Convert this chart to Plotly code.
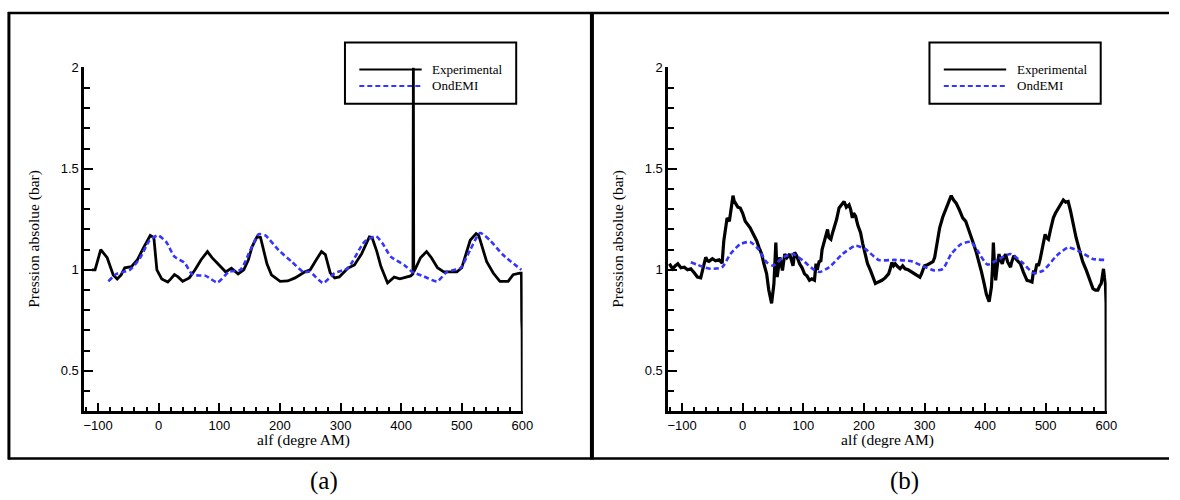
import plotly.graph_objects as go

# ---------------- data ----------------
# Panel (a)
exp_a_x = [-110, -105, -95.6, -85, -75, -68.4, -62, -56, -45, -35, -25, -15, -13.9, -8, -3, 5, 15, 20, 26, 32, 39.6,
           50.5, 60, 70, 80.5, 88, 99.5, 110.4, 120, 131, 140.4, 148, 154, 162.2, 168, 178.6, 186, 200.4, 213,
           225, 241.3, 250, 260, 268.6, 275, 283, 290.4, 298, 312, 323, 335, 347.6, 352, 360, 366.7, 377.6,
           388.5, 398, 415.8, 419.5, 420.2, 420.8, 424, 432, 442, 450, 460, 470.3, 492, 500, 514, 523.7, 528,
           541.2, 552, 563, 576.6, 584.8, 595.7, 598.5, 599, 599.6, 600]
exp_a_y = [1.00, 1.00, 1.10, 1.06, 0.975, 0.955, 0.975, 1.01, 1.016, 1.05, 1.11, 1.165, 1.17, 1.16, 1.0, 0.955,
           0.94, 0.955, 0.976, 0.965, 0.943, 0.96, 1.0, 1.05, 1.09, 1.06, 1.024, 0.99, 1.008, 0.98, 1.0, 1.05,
           1.114, 1.163, 1.16, 1.03, 0.975, 0.943, 0.945, 0.96, 0.99, 1.0, 1.05, 1.09, 1.075, 0.985, 0.96, 0.965,
           1.008, 1.024, 1.08, 1.163, 1.16, 1.09, 1.016, 0.935, 0.964, 0.955, 0.97, 0.98, 2.0, 0.99, 1.008,
           1.06, 1.09, 1.06, 1.01, 0.99, 0.99, 1.01, 1.146, 1.179, 1.17, 1.04, 0.984, 0.943, 0.943, 0.976,
           0.984, 0.984, 0.75, 0.70, 0.30]

emi_a_x = [-83, -69.5, -47.6, -31, -15, -1.3, 12.3, 26, 42.3, 56, 77.7, 96.8, 116, 135, 151.3, 165, 176, 197.7,
           219.5, 238.6, 249.5, 271.3, 290.4, 312, 339.4, 358.5, 369.4, 383, 404.9, 418.5, 437.6, 459.4, 475.7,
           497.5, 513.9, 530.3, 546.6, 568.4, 598.4]
emi_a_y = [0.943, 0.98, 1.0, 1.057, 1.146, 1.17, 1.138, 1.065, 1.036, 0.976, 0.97, 0.938, 0.99, 1.0, 1.098, 1.176,
           1.17, 1.098, 1.04, 0.99, 0.99, 0.935, 0.984, 1.008, 1.138, 1.166, 1.13, 1.065, 1.024, 0.99, 0.967,
           0.943, 0.99, 1.008, 1.098, 1.182, 1.146, 1.073, 1.0]

# Panel (b)
exp_b_x = [-121, -118, -115.5, -111, -107, -102, -96.4, -91, -85.6, -80, -74.7, -69.3, -65, -61, -58, -55.7, -50,
           -44.8, -39, -33.9, -31.2, -28, -25.7, -22, -19.2, -16, -14, -12.2, -8, -4, 0, 4.2, 8, 12.3, 17, 23.2,
           27, 31.3, 35, 39.5, 43, 47.7, 51.5, 54.7, 56.9, 61.3, 65.6, 69.4, 73, 77.6, 83, 85.7, 89, 93.9, 98, 102,
           106, 110.2, 114, 118.4, 121, 123, 126, 129, 131, 134.7, 137, 140, 142, 145.5, 148, 151, 155, 159, 163,
           167.3, 171, 175.5, 178, 180.9, 183, 186.3, 190, 194.5, 198, 202.6, 206, 210.8, 215, 219, 224, 229.8,
           235, 240.7, 243, 246.2, 249, 251.6, 256, 259.7, 264, 267.9, 273, 278.8, 285, 292.4, 295, 300, 305,
           311.4, 314, 316.8, 320, 325, 330, 335.9, 340, 344, 348, 352.2, 357, 363, 368, 373.9, 378, 382, 386,
           390.3, 394, 398.4, 402, 406.6, 410.4, 412, 413.6, 415, 417.4, 420, 422.9, 425, 428.3, 431, 433.7, 437,
           441.9, 444, 447.4, 452, 458.2, 463, 469.1, 473, 477.3, 480, 482, 485.4, 488, 490.9, 494, 499, 501,
           504.5, 508, 512.6, 516, 520.8, 525, 529, 533, 537, 541, 545.2, 550, 556, 561, 567, 572, 577.9, 582,
           586, 589, 591.5, 593, 595.3, 597, 598.5, 599.6, 600]
exp_b_y = [1.03, 1.015, 1.005, 1.02, 1.03, 1.01, 1.013, 1.0, 1.005, 0.985, 0.964, 0.96, 1.013, 1.062, 1.045, 1.042,
           1.055, 1.045, 1.05, 1.033, 1.143, 1.2, 1.257, 1.24, 1.306, 1.367, 1.34, 1.33, 1.31, 1.306, 1.28, 1.24,
           1.225, 1.208, 1.18, 1.143, 1.11, 1.078, 1.03, 0.98, 0.9, 0.834, 0.93, 1.135, 0.964, 1.062, 0.997, 1.078,
           1.06, 1.078, 1.02, 1.086, 1.07, 1.03, 1.01, 0.98, 0.97, 0.948, 0.955, 0.948, 1.03, 1.0, 1.04, 1.045,
           1.1, 1.143, 1.17, 1.2, 1.16, 1.151, 1.18, 1.208, 1.25, 1.306, 1.32, 1.338, 1.31, 1.322, 1.3, 1.257,
           1.28, 1.265, 1.22, 1.184, 1.13, 1.078, 1.03, 0.997, 0.96, 0.932, 0.94, 0.948, 0.96, 0.98, 1.0, 1.037,
           1.02, 1.03, 1.015, 1.005, 1.02, 1.005, 1.0, 0.989, 0.975, 0.964, 0.98, 1.02, 1.025, 1.033, 1.04, 1.062,
           1.13, 1.208, 1.26, 1.306, 1.33, 1.367, 1.345, 1.33, 1.3, 1.257, 1.24, 1.192, 1.16, 1.119, 1.08, 1.037,
           0.99, 0.932, 0.88, 0.842, 0.915, 1.0, 1.135, 1.05, 0.948, 1.02, 1.078, 1.05, 1.03, 1.06, 1.078, 1.04,
           1.013, 1.04, 1.07, 1.05, 1.03, 0.99, 0.948, 0.945, 0.94, 0.997, 0.98, 1.03, 1.02, 1.054, 1.1, 1.176,
           1.16, 1.151, 1.2, 1.257, 1.28, 1.306, 1.33, 1.346, 1.335, 1.338, 1.29, 1.224, 1.16, 1.094, 1.04, 0.997,
           0.95, 0.907, 0.9, 0.9, 0.92, 0.932, 0.96, 1.005, 0.96, 0.932, 0.834, 0.30]

emi_b_x = [-85.6, -66.5, -53, -34, -20.3, -4, 12.3, 25.9, 39.5, 50.4, 66.7, 83, 99.3, 115.6, 126.5, 142.8, 164.6,
           186.3, 202.6, 224.4, 251.6, 278.8, 295, 316.8, 330.4, 344, 360.3, 376.7, 387.5, 403.9, 420.2, 441.9,
           461, 480, 496.3, 518, 537, 556, 577.9, 596.9]
emi_b_y = [1.037, 1.016, 1.005, 1.013, 1.078, 1.127, 1.138, 1.102, 1.037, 1.021, 1.062, 1.078, 1.046, 1.005,
           0.989, 1.013, 1.078, 1.119, 1.102, 1.049, 1.049, 1.042, 1.021, 0.997, 1.005, 1.078, 1.127, 1.138,
           1.094, 1.026, 1.049, 1.078, 1.037, 0.984, 0.997, 1.07, 1.11, 1.091, 1.054, 1.049]

series_names = ["Experimental", "OndEMI"]
panel_labels = ["(a)", "(b)"]
x_title = "alf (degre AM)"
y_title = "Pression absolue (bar)"

# ---------------- styling ----------------
W, H = 1180, 500
BLUE = "#3535ff"
SERIF = "Liberation Serif, Times New Roman, serif"
SANS = "Liberation Sans, Arial, sans-serif"


def px(x):
    return x / W


def py(y):
    return 1 - y / H


fig = go.Figure()
fig.add_trace(go.Scatter(x=exp_a_x, y=exp_a_y, mode="lines", line=dict(color="black", width=2.8),
                         xaxis="x", yaxis="y", showlegend=False))
fig.add_trace(go.Scatter(x=emi_a_x, y=emi_a_y, mode="lines",
                         line=dict(color=BLUE, width=2.6, dash="5px,3px", shape="spline", smoothing=0.6),
                         xaxis="x", yaxis="y", showlegend=False))
fig.add_trace(go.Scatter(x=exp_b_x, y=exp_b_y, mode="lines", line=dict(color="black", width=3.2),
                         xaxis="x2", yaxis="y2", showlegend=False))
fig.add_trace(go.Scatter(x=emi_b_x, y=emi_b_y, mode="lines",
                         line=dict(color=BLUE, width=2.6, dash="5px,3px", shape="spline", smoothing=0.6),
                         xaxis="x2", yaxis="y2", showlegend=False))

ydom = [py(410), py(61)]


def xaxis(dom, anchor):
    return dict(domain=dom, anchor=anchor, range=[-123, 600.5], showgrid=False, zeroline=False,
                showline=True, linecolor="black", linewidth=2.5, mirror=False,
                ticks="inside", ticklen=9, tickwidth=2, tickcolor="black", dtick=100, tick0=0,
                tickfont=dict(family=SANS, size=13, color="black"),
                minor=dict(dtick=20, ticks="inside", ticklen=5, tickwidth=2, tickcolor="black"))


def yaxis(anchor):
    return dict(domain=ydom, anchor=anchor, range=[0.3, 2.003], showgrid=False, zeroline=False,
                showline=True, linecolor="black", linewidth=2.5, mirror=False,
                ticks="inside", ticklen=9, tickwidth=2, tickcolor="black", dtick=0.5, tick0=0,
                tickfont=dict(family=SANS, size=13, color="black"),
                minor=dict(dtick=0.1, ticks="inside", ticklen=6, tickwidth=2, tickcolor="black"))


shapes = []
# outer frames
shapes.append(dict(type="line", xref="paper", yref="paper", x0=px(7), x1=px(1180), y0=py(6), y1=py(6),
                   line=dict(color="black", width=2.5)))
shapes.append(dict(type="line", xref="paper", yref="paper", x0=px(7), x1=px(1180), y0=py(458), y1=py(458),
                   line=dict(color="black", width=2.5)))
shapes.append(dict(type="line", xref="paper", yref="paper", x0=px(8), x1=px(8), y0=py(5), y1=py(459),
                   line=dict(color="black", width=3)))
shapes.append(dict(type="line", xref="paper", yref="paper", x0=px(597), x1=px(597), y0=py(5), y1=py(459),
                   line=dict(color="black", width=4)))

annotations = []
for off, lab, axc, labx in [(0, panel_labels[0], 305.5, 326), (590.5, panel_labels[1], 895.5, 912.5)]:
    bx0, bx1 = 347.5 + off, 520.5 + off
    shapes.append(dict(type="rect", xref="paper", yref="paper", x0=px(bx0), x1=px(bx1), y0=py(98), y1=py(36),
                       line=dict(color="black", width=2), layer="below"))
    shapes.append(dict(type="line", xref="paper", yref="paper", x0=px(bx0 + 14.5), x1=px(bx0 + 77.5),
                       y0=py(63.5), y1=py(63.5), line=dict(color="black", width=2), layer="below"))
    shapes.append(dict(type="line", xref="paper", yref="paper", x0=px(bx0 + 14.5), x1=px(bx0 + 77.5),
                       y0=py(80), y1=py(80), line=dict(color=BLUE, width=2, dash="5px,3px"), layer="below"))
    for name, yy in zip(series_names, [63.5, 80]):
        annotations.append(dict(xref="paper", yref="paper", x=px(bx0 + 86), y=py(yy), text=name, showarrow=False,
                                xanchor="left", yanchor="middle", font=dict(family=SERIF, size=13, color="black")))
    annotations.append(dict(xref="paper", yref="paper", x=px(axc), y=py(439), text=x_title, showarrow=False,
                            xanchor="center", yanchor="middle", font=dict(family=SERIF, size=15.5, color="black")))
    annotations.append(dict(xref="paper", yref="paper", x=px(axc - 271.5), y=py(235.5), text=y_title,
                            showarrow=False, textangle=-90, xanchor="center", yanchor="middle",
                            font=dict(family=SERIF, size=15.5, color="black")))
    annotations.append(dict(xref="paper", yref="paper", x=px(labx), y=py(481), text=lab, showarrow=False,
                            xanchor="center", yanchor="middle", font=dict(family=SERIF, size=25, color="black")))

fig.update_layout(
    width=W, height=H, margin=dict(l=0, r=0, t=0, b=0),
    paper_bgcolor="white", plot_bgcolor="rgba(0,0,0,0)",
    xaxis=xaxis([px(84), px(527)], "y"), yaxis=yaxis("x"),
    xaxis2=xaxis([px(674), px(1117)], "y2"), yaxis2=yaxis("x2"),
    shapes=shapes, annotations=annotations, showlegend=False,
)

fig.write_html("out.html", config={"displayModeBar": False},
               post_script="document.body.style.margin='0';document.body.style.overflow='hidden';")
